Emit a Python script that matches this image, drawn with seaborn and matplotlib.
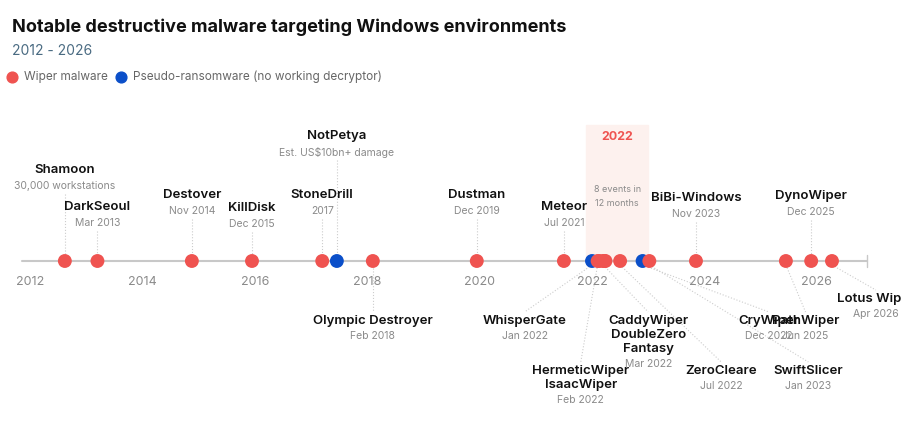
import pandas as pd
import seaborn as sns
import matplotlib
matplotlib.use("Agg")
import matplotlib.pyplot as plt

RED = "#ef5350"
BLUE = "#0b4fc9"
GREY = "#8a8a8a"

# events: name, date (decimal year), type
names = ["Shamoon", "DarkSeoul", "Destover", "KillDisk", "StoneDrill", "NotPetya",
         "Olympic Destroyer", "Dustman", "Meteor", "WhisperGate", "HermeticWiper",
         "IsaacWiper", "CaddyWiper", "DoubleZero", "Fantasy", "ZeroCleare",
         "CryWiper", "SwiftSlicer", "BiBi-Windows", "PathWiper", "DynoWiper", "Lotus Wiper"]
dates = [2012.62, 2013.2, 2014.88, 2015.95, 2017.2, 2017.46, 2018.1, 2019.95, 2021.5,
         2022.0, 2022.1, 2022.13, 2022.2, 2022.22, 2022.24, 2022.5,
         2022.9, 2023.02, 2023.85, 2025.45, 2025.9, 2026.27]
kinds = ["Wiper malware"] * 5 + ["Pseudo-ransomware (no working decryptor)"] + ["Wiper malware"] * 3 + \
        ["Pseudo-ransomware (no working decryptor)"] + ["Wiper malware"] * 6 + \
        ["Pseudo-ransomware (no working decryptor)"] + ["Wiper malware"] * 5

labels_above = [
    ("Shamoon", "30,000 workstations", 2012.62, 170),
    ("DarkSeoul", "Mar 2013", 2013.2, 207),
    ("Destover", "Nov 2014", 2014.88, 195),
    ("KillDisk", "Dec 2015", 2015.95, 208),
    ("StoneDrill", "2017", 2017.2, 195),
    ("NotPetya", "Est. US$10bn+ damage", 2017.46, 136),
    ("Dustman", "Dec 2019", 2019.95, 195),
    ("Meteor", "Jul 2021", 2021.5, 207),
    ("BiBi-Windows", "Nov 2023", 2023.85, 198),
    ("DynoWiper", "Dec 2025", 2025.9, 196),
]
labels_below = [
    (["Olympic Destroyer"], "Feb 2018", 2018.1, 2018.1, 321),
    (["WhisperGate"], "Jan 2022", 2020.8, 2022.0, 321),
    (["HermeticWiper", "IsaacWiper"], "Feb 2022", 2021.8, 2022.1, 371),
    (["CaddyWiper", "DoubleZero", "Fantasy"], "Mar 2022", 2023.0, 2022.2, 321),
    (["ZeroCleare"], "Jul 2022", 2024.3, 2022.5, 371),
    (["CryWiper"], "Dec 2022", 2025.15, 2022.9, 321),
    (["PathWiper"], "Jun 2025", 2025.8, 2025.45, 321),
    (["SwiftSlicer"], "Jan 2023", 2025.85, 2023.02, 371),
    (["Lotus Wiper"], "Apr 2026", 2027.05, 2026.27, 299),
]
ticks = [2012, 2014, 2016, 2018, 2020, 2022, 2024, 2026]

df = pd.DataFrame({"name": names, "date": dates, "kind": kinds})
df["y"] = 261

sns.set_style("white")
plt.rcParams["font.family"] = ["Inter", "DejaVu Sans"]

fig = plt.figure(figsize=(9.03, 4.26), dpi=100)
ax = fig.add_axes([0, 0, 1, 1])
px = 56.2
x0 = 2012 - 30 / px
ax.set_xlim(x0, x0 + 903 / px)
ax.set_ylim(426, 0)
ax.axis("off")

# 2022 highlight band
ax.axvspan(2021.9, 2023.0, ymin=(426 - 261) / 426, ymax=(426 - 125) / 426, color="#fdf1ee", zorder=0)
ax.text(2022.45, 137, "2022", color=RED, ha="center", va="center", fontsize=9, fontweight="bold")
ax.text(2022.45, 190, "8 events in", color=GREY, ha="center", va="center", fontsize=6.5)
ax.text(2022.45, 203, "12 months", color=GREY, ha="center", va="center", fontsize=6.5)

ax.plot([2011.85, 2026.9], [261, 261], color="#c8c8c8", lw=1.5, zorder=1)
ax.plot([2026.9, 2026.9], [255, 267], color="#c8c8c8", lw=1, zorder=1)
for t in ticks:
    ax.text(t, 282, str(t), ha="center", va="center", color=GREY, fontsize=9)

for title, sub, yr, ty in labels_above:
    ax.plot([yr, yr], [ty + 24, 255], color="#cccccc", lw=0.8, ls=":", zorder=1)
    ax.text(yr, ty, title, ha="center", va="center", fontsize=9.5, fontweight="semibold", color="#111")
    ax.text(yr, ty + 16, sub, ha="center", va="center", fontsize=7.5, color=GREY)

for lines, sub, lx, ex, ty in labels_below:
    ax.plot([ex, lx], [265, ty - 9], color="#cccccc", lw=0.8, ls=":", zorder=1)
    for i, ln in enumerate(lines):
        ax.text(lx, ty + 14 * i, ln, ha="center", va="center", fontsize=9.5, fontweight="semibold", color="#111")
    ax.text(lx, ty + 14 * len(lines) + 1, sub, ha="center", va="center", fontsize=7.5, color=GREY)

sns.scatterplot(data=df, x="date", y="y", hue="kind", ax=ax, s=100, edgecolor="none",
                palette={"Wiper malware": RED, "Pseudo-ransomware (no working decryptor)": BLUE},
                legend=False, zorder=3)

fig.text(12 / 903, 1 - 27 / 426, "Notable destructive malware targeting Windows environments",
         fontsize=13, fontweight="bold", va="center", color="#111")
fig.text(12 / 903, 1 - 51 / 426, "2012 - 2026", fontsize=10, va="center", color="#4a6b82")
ax.scatter([12 / 903], [1 - 77 / 426], s=60, color=RED, transform=fig.transFigure, clip_on=False)
fig.text(24 / 903, 1 - 77 / 426, "Wiper malware", fontsize=8.5, va="center", color="#666")
ax.scatter([121 / 903], [1 - 77 / 426], s=60, color=BLUE, transform=fig.transFigure, clip_on=False)
fig.text(133 / 903, 1 - 77 / 426, "Pseudo-ransomware (no working decryptor)", fontsize=8.5, va="center", color="#666")

fig.savefig("out.png", dpi=100, facecolor="white")
